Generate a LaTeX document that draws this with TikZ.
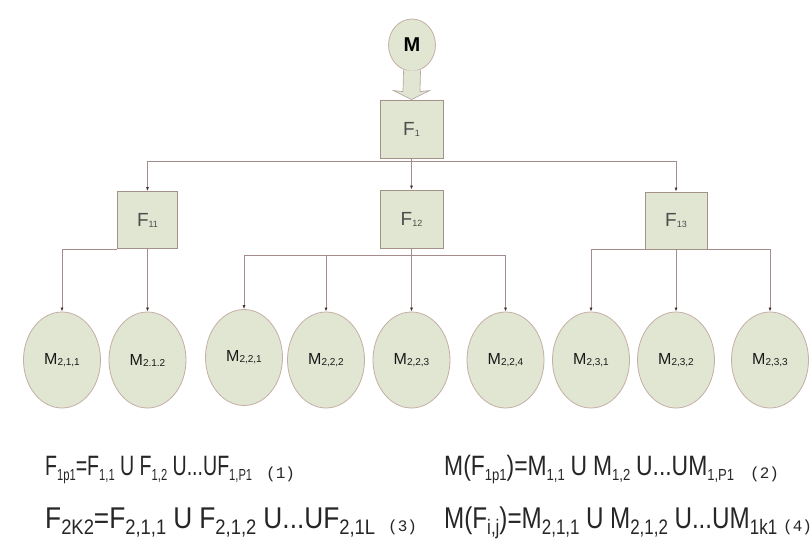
\documentclass[tikz,border=0pt]{standalone}
\usepackage{graphicx}
\usepackage{fontspec}
\setmainfont{Liberation Sans}
\newfontfamily\condfont{Liberation Sans}[FakeStretch=0.7]
\newfontfamily\condfontb{Liberation Sans}[FakeStretch=0.62]
\newfontfamily\numfont{Liberation Mono}
\usetikzlibrary{shapes.geometric,arrows.meta,calc}
\definecolor{sage}{HTML}{E0E6D2}
\definecolor{boxline}{HTML}{A49288}
\definecolor{ovalline}{HTML}{C6AEA6}
\definecolor{conn}{HTML}{A48C8C}
\definecolor{tipc}{HTML}{4A3232}
\newcommand\dn[1]{\raisebox{-5pt}{\fontsize{16}{16}\selectfont #1}}
\newcommand\dnb[1]{\raisebox{-6pt}{\fontsize{21}{21}\selectfont #1}}
\newcommand\ms[1]{\raisebox{-1pt}{\fontsize{10}{10}\selectfont #1}}
\newcommand\fs[1]{\raisebox{-1pt}{\fontsize{9}{9}\selectfont #1}}
\newcommand\fitw[2]{\resizebox{#1}{\height}{#2}}
\newcommand\uu{\hspace{5pt}U\hspace{5pt}}
\newcommand\ul{\hspace{5pt}U}
\begin{document}
\begin{tikzpicture}[x=1pt,y=-1pt,
  fbox/.style={draw=boxline,fill=sage,line width=0.8pt,inner sep=0pt,text=black!70,font=\fontsize{19}{19}\selectfont},
  oval/.style={ellipse,draw=ovalline,fill=sage,line width=0.8pt,inner sep=0pt,minimum width=77pt,minimum height=96pt,font=\fontsize{16}{16}\selectfont,text=black!90},
  conline/.style={draw=conn,line width=0.7pt},
  conarr/.style={conline,-{Latex[length=4pt,width=3pt,color=tipc]}},
  formula/.style={anchor=base west,inner sep=0pt,font=\condfont\fontsize{28}{28}\selectfont,text=black!85},
  formulab/.style={anchor=base west,inner sep=0pt,font=\condfontb\fontsize{30}{30}\selectfont,text=black!85},
  eqnum/.style={anchor=base west,inner sep=0pt,font=\numfont\fontsize{16}{16}\selectfont,text=black!85}]
\useasboundingbox (0,0) rectangle (811,548);
\fill[white] (0,0) rectangle (811,548);

% top circle and block arrow
\node[ellipse,draw=ovalline,fill=sage,line width=0.8pt,minimum width=47pt,minimum height=52pt,inner sep=0pt,font=\fontsize{20}{20}\selectfont\bfseries] (M) at (412,45) {M};
\node[fbox,minimum width=63pt,minimum height=58pt] (F1) at (411.5,129) {F\fs{1}};
\draw[draw=boxline!80,fill=sage,line width=0.7pt]
  ($(M.south)+(-8.5,-1)$) -- ($(F1.north)+(-8.5,-8)$) -- ($(F1.north)+(-18,-9)$)
  -- (F1.north) -- ($(F1.north)+(18,-9)$) -- ($(F1.north)+(8.5,-8)$) -- ($(M.south)+(8.5,-1)$);

% level 2 boxes
\node[fbox,minimum width=60pt,minimum height=57pt] (F11) at (147.5,220) {F\fs{11}};
\node[fbox,minimum width=63pt,minimum height=58pt] (F12) at (411.5,219) {F\fs{12}};
\node[fbox,minimum width=62pt,minimum height=57pt] (F13) at (676,220.5) {F\fs{13}};

\coordinate (b1) at (411.5,161);
\draw[conline] (F1.south) -- (b1);
\draw[conarr] (b1) -| (F11.north);
\draw[conarr] (F1.south) -- (F12.north);
\draw[conarr] (b1) -| (F13.north);

% level 3 ovals
\node[oval] (m211) at (62,360) {M\ms{2,1,1}};
\node[oval] (m212) at (147.5,360) {M\ms{2.1.2}};
\node[oval] (m221) at (244,357.5) {M\ms{2,2,1}};
\node[oval] (m222) at (326,360) {M\ms{2,2,2}};
\node[oval] (m223) at (411.5,360) {M\ms{2,2,3}};
\node[oval] (m224) at (505.5,360) {M\ms{2,2,4}};
\node[oval] (m231) at (591,360) {M\ms{2,3,1}};
\node[oval] (m232) at (676,360) {M\ms{2,3,2}};
\node[oval] (m233) at (770,360) {M\ms{2,3,3}};

\draw[conarr] (F11.south west) -| (m211.north);
\draw[conarr] (F11.south) -- (m212.north);

\coordinate (b2) at (411.5,255);
\draw[conarr] (F12.south) -- (m223.north);
\draw[conarr] (b2) -| (m221.north);
\draw[conarr] (b2) -| (m224.north);
\coordinate (b3) at (326,255);
\draw[conarr] (b3) -- (m222.north);

\draw[conarr] (F13.south west) -| (m231.north);
\draw[conarr] (F13.south) -- (m232.north);
\draw[conarr] (F13.south east) -| (m233.north);

% formulas
\node[formula] (e1) at (45,475) {\fitw{207pt}{F\dn{1p1}=F\dn{1,1} U F\dn{1,2} U...UF\dn{1,P1}}};
\node[eqnum] (n1) at (266,478) {(1)};
\node[formulab] (e3) at (45,528) {\fitw{330pt}{F\dnb{2K2}=F\dnb{2,1,1}\uu F\dnb{2,1,2}\ul...UF\dnb{2,1L}}};
\node[eqnum] (n3) at (388,531) {(3)};
\node[formula] (e2) at (444,475) {\fitw{290pt}{M(F\dn{1p1})=M\dn{1,1}\uu M\dn{1,2}\ul...UM\dn{1,P1}}};
\node[eqnum] (n2) at (750,478) {(2)};
\node[formulab] (e4) at (444,528) {\fitw{333pt}{M(F\dnb{i,j})=M\dnb{2,1,1}\uu M\dnb{2,1,2}\ul...UM\dnb{1k1}}};
\node[eqnum] (n4) at (783,531) {(4)};
\end{tikzpicture}
\end{document}
